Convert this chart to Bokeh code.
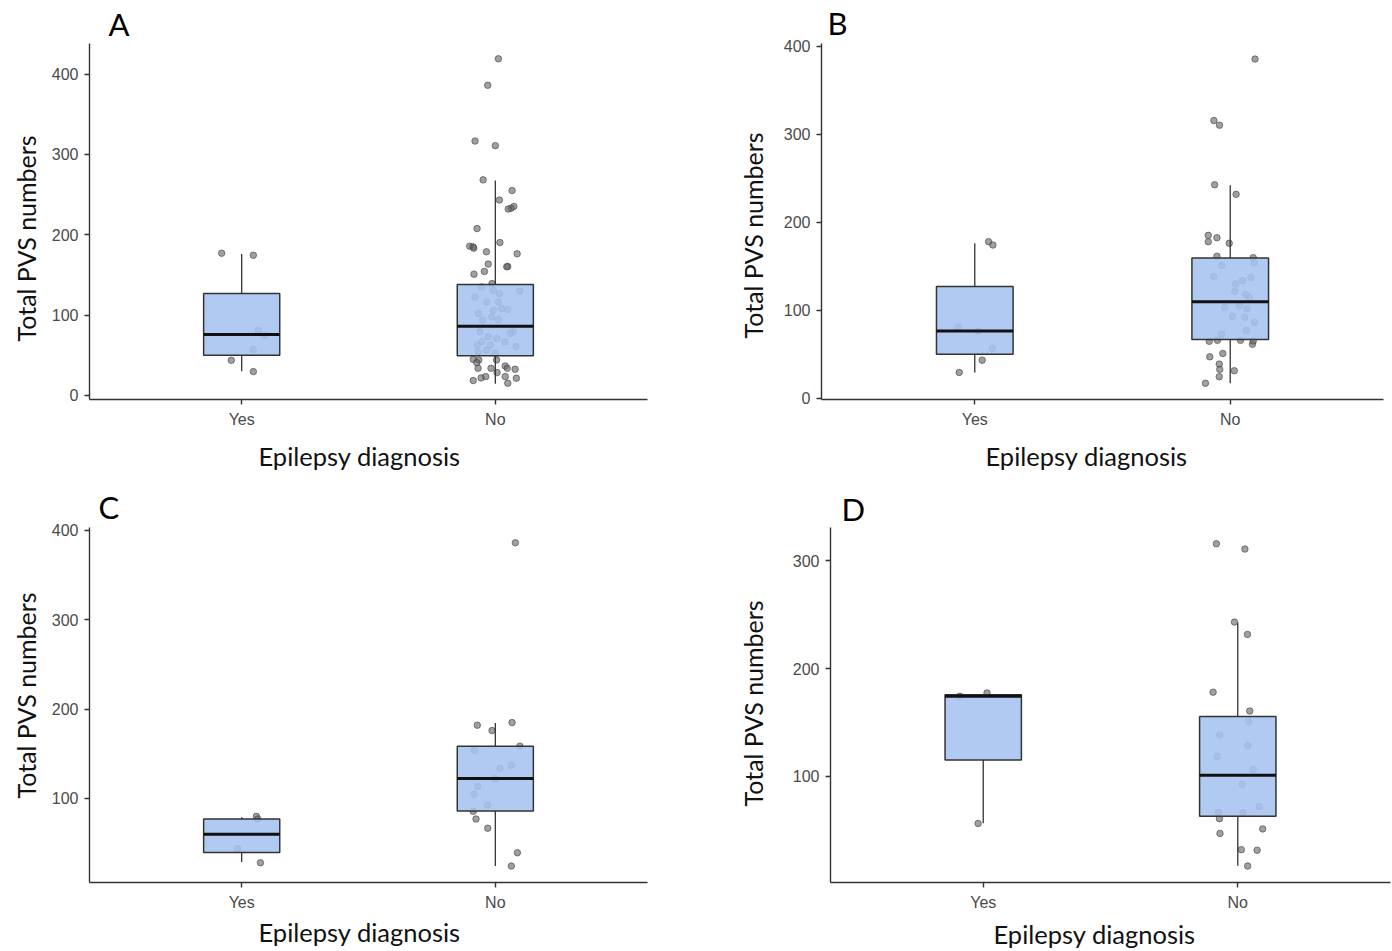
from bokeh.plotting import figure
from bokeh.layouts import column, row
from bokeh.models import Range1d, FixedTicker, Title
from bokeh.embed import file_html
from bokeh.resources import INLINE

# ---------------- data ----------------
categories = ["Yes", "No"]
cat_pos = [1, 2]
x_title = "Epilepsy diagnosis"
y_title = "Total PVS numbers"

# Box statistics per panel: [Yes, No]
A_lower = [30, 14.5];  A_q1 = [50, 49.5];  A_med = [76, 86.3];  A_q3 = [127, 138];  A_upper = [176, 267.6]
B_lower = [29.3, 16.9]; B_q1 = [50, 66.7]; B_med = [76.3, 109.6]; B_q3 = [127, 159.4]; B_upper = [176, 242]
C_lower = [28.9, 24.4]; C_q1 = [39.5, 85.9]; C_med = [60, 122.2]; C_q3 = [77, 158.5]; C_upper = [78.9, 184.4]
D_lower = [56.3, 16.8]; D_q1 = [115, 62.7]; D_med = [174.3, 100.9]; D_q3 = [175.6, 155.4]; D_upper = [175.6, 242.6]

# Jittered observations: value and horizontal offset from the category centre
A_yes_val = [177, 174.5, 81, 75, 57, 43.8, 29.7]
A_yes_dx = [-0.079, 0.046, 0.066, 0.092, 0.046, -0.041, 0.046]
A_no_val = [419, 386, 316.6, 310.9, 268.3, 255, 243.2, 235.3, 233, 232, 207.7, 185.8, 185, 183.3,
            190.3, 178.8, 176.3, 163.5, 160.6, 160.2, 154.4, 151, 139.2,
            135, 130.9, 130, 122.6, 126.8, 116.4, 116.4, 106.1, 108.2, 107, 102, 97.8, 93.7, 94.6,
            79.3, 77.3, 79.3, 73, 71, 66.9, 66.9, 62.8, 62.8, 60.7, 56.6, 52.5, 54.5,
            45, 44.2, 40.9, 33.9, 33.9, 44.2, 36.8, 33.9, 32.7, 28.5, 23.5, 21.5, 15.3, 18.6, 21.9, 23.5]
A_no_dx = [0.012, -0.030, -0.080, 0.000, -0.048, 0.066, 0.016, 0.073, 0.062, 0.051, -0.072, -0.101, -0.088, -0.085,
           0.018, -0.035, 0.086, -0.028, 0.049, 0.045, -0.043, -0.084, -0.013,
           -0.054, -0.008, 0.097, -0.080, 0.016, -0.034, 0.012, -0.008, 0.024, 0.048, -0.067, -0.014, -0.050, 0.012,
           -0.060, 0.058, 0.070, -0.028, 0.006, -0.053, 0.038, -0.071, -0.020, 0.082, -0.034, 0.000, -0.067,
           -0.087, -0.065, -0.073, -0.068, -0.017, 0.005, 0.039, 0.047, 0.078, 0.007, 0.039, 0.083, 0.049, -0.087, -0.056, -0.038]

B_yes_val = [177.8, 174, 80.8, 76, 56.4, 43.2, 29.3]
B_yes_dx = [0.054, 0.071, -0.064, 0.014, 0.069, 0.029, -0.061]
B_no_val = [385.3, 315.4, 310.2, 242.5, 231.6, 185, 177.8, 182.3, 176, 161.3, 159.7, 151.1, 154,
            138, 137.2, 133.4, 129.7, 121.4, 117.7, 114, 103.3, 105.2, 101.5, 92.8, 92, 86.4, 77, 72.5,
            64.6, 65.8, 65.8, 61.3, 65, 47, 50.8, 38.7, 32.7, 31.2, 24.4, 16.9]
B_no_dx = [0.097, -0.064, -0.042, -0.061, 0.023, -0.086, -0.086, -0.052, -0.004, -0.052, 0.090, -0.033, 0.094,
           -0.065, 0.081, 0.048, 0.020, 0.018, 0.061, 0.075, -0.022, 0.036, 0.066, 0.009, 0.057, 0.095, 0.063, -0.034,
           -0.082, -0.050, 0.040, 0.087, 0.090, -0.080, -0.029, -0.043, -0.041, 0.016, -0.043, -0.097]

C_yes_val = [80, 77, 43.7, 28.1]
C_yes_dx = [0.058, 0.063, -0.016, 0.074]
C_no_val = [385.9, 184.8, 181.9, 175.9, 158.5, 154, 137, 133.7, 122, 113.3, 104.8, 92.6, 85.6, 77, 66.7, 39.3, 24.4]
C_no_dx = [0.079, 0.066, -0.071, -0.013, 0.097, -0.082, 0.063, 0.018, 0.000, -0.069, -0.084, -0.031, -0.087,
           -0.076, -0.030, 0.087, 0.063]

D_yes_val = [177.3, 174.3, 56]
D_yes_dx = [0.015, -0.092, -0.020]
D_no_val = [315.9, 311, 243.1, 231.7, 178, 160.5, 150.7, 138.2, 128.4, 118.3, 106.1, 92.3, 71.8, 66.3, 65.7,
            60.5, 46.8, 51, 31.7, 31.2, 16.5]
D_no_dx = [-0.084, 0.028, -0.013, 0.038, -0.097, 0.047, 0.043, -0.071, 0.039, -0.081, 0.060, 0.017, 0.084,
           -0.076, 0.020, -0.072, -0.070, 0.098, 0.014, 0.076, 0.039]

y_ticks_ABC = [0, 100, 200, 300, 400]
y_ticks_D = [100, 200, 300]

# ---------------- styling ----------------
BOX_FILL = "#a6c3f0"
DARK = "#333333"
BOX_W = 0.3


def panel(letter, width, height, borders, yrange, yticks, stats, yes, no,
          xlab, ylab, letter_offset, letter_standoff):
    left, right, top, bottom = borders
    p = figure(width=width, height=height, output_backend="svg", toolbar_location=None,
               x_range=Range1d(0.4, 2.6), y_range=Range1d(*yrange),
               min_border_left=left, min_border_right=right, min_border_top=top, min_border_bottom=bottom,
               title=letter)
    p.title.text_font = "Lato"
    p.title.text_font_size = "31px"
    p.title.text_font_style = "normal"
    p.title.text_color = "#000000"
    p.title.align = "left"
    p.title.offset = letter_offset
    p.title.standoff = letter_standoff

    p.grid.visible = False
    p.outline_line_color = None
    p.background_fill_color = "white"
    p.border_fill_color = "white"

    lower, q1, med, q3, upper = stats

    # jittered points (drawn first, under the boxes)
    for c, (vals, dxs) in zip(cat_pos, [yes, no]):
        p.scatter(x=[c + d for d in dxs], y=vals, size=6.5, fill_color="#606060", fill_alpha=0.6,
                  line_color="#404040", line_alpha=0.6, line_width=1)

    # whiskers
    p.segment(x0=cat_pos, y0=lower, x1=cat_pos, y1=q1, line_color=DARK, line_width=1.3)
    p.segment(x0=cat_pos, y0=q3, x1=cat_pos, y1=upper, line_color=DARK, line_width=1.3)
    # boxes
    p.vbar(x=cat_pos, width=BOX_W, bottom=q1, top=q3, fill_color=BOX_FILL, fill_alpha=0.88,
           line_color=DARK, line_width=1.5)
    # medians
    p.segment(x0=[c - BOX_W / 2 for c in cat_pos], y0=med, x1=[c + BOX_W / 2 for c in cat_pos], y1=med,
              line_color="#111111", line_width=3)

    for ax in (p.xaxis[0], p.yaxis[0]):
        ax.axis_line_color = DARK
        ax.axis_line_width = 1.4
        ax.major_tick_line_color = DARK
        ax.major_tick_line_width = 1.4
        ax.major_tick_out = 5
        ax.major_tick_in = 0
        ax.minor_tick_line_color = None
        ax.major_label_text_font = "Liberation Sans"
        ax.major_label_text_font_size = "16px"
        ax.major_label_text_color = "#4a4a4a"
        ax.major_label_standoff = 6

    p.xaxis.ticker = FixedTicker(ticks=cat_pos)
    p.xaxis.major_label_overrides = {c: n for c, n in zip(cat_pos, categories)}
    p.yaxis.ticker = FixedTicker(ticks=yticks)

    # axis titles (placed as side titles so they can be offset like the original)
    xoff, xstand = xlab
    yoff, ystand = ylab
    p.add_layout(Title(text=x_title, align="left", offset=xoff, standoff=xstand, text_font="Lato",
                       text_font_size="25.5px", text_font_style="normal", text_color="#111111"), "below")
    p.add_layout(Title(text=y_title, align="left", offset=yoff, standoff=ystand, text_font="Lato",
                       text_font_size="25px", text_font_style="normal", text_color="#111111"), "left")
    return p


TOP_H, BOT_H = 478, 473

pA = panel("A", 700, TOP_H, (89, 53, 42, TOP_H - 42 - 358), (-5, 438), y_ticks_ABC,
           (A_lower, A_q1, A_med, A_q3, A_upper), (A_yes_val, A_yes_dx), (A_no_val, A_no_dx),
           (169, 16), (58, 16), 19, 1)
pB = panel("B", 692, TOP_H, (121, 9, 42, TOP_H - 42 - 357), (-1.5, 403), y_ticks_ABC,
           (B_lower, B_q1, B_med, B_q3, B_upper), (B_yes_val, B_yes_dx), (B_no_val, B_no_dx),
           (164, 16), (61, 26), 6, 3)
pC = panel("C", 700, BOT_H, (89, 53, 49, BOT_H - 49 - 357), (6, 403), y_ticks_ABC,
           (C_lower, C_q1, C_med, C_q3, C_upper), (C_yes_val, C_yes_dx), (C_no_val, C_no_dx),
           (169, 2), (84, 16), 9, 3)
pD = panel("D", 692, BOT_H, (130, 2, 45, BOT_H - 45 - 359), (1.2, 331), y_ticks_D,
           (D_lower, D_q1, D_med, D_q3, D_upper), (D_yes_val, D_yes_dx), (D_no_val, D_no_dx),
           (163, 6), (76, 44), 11, 0)

layout = column(row(pA, pB), row(pC, pD))

open("out.html", "w").write(file_html(layout, INLINE))
